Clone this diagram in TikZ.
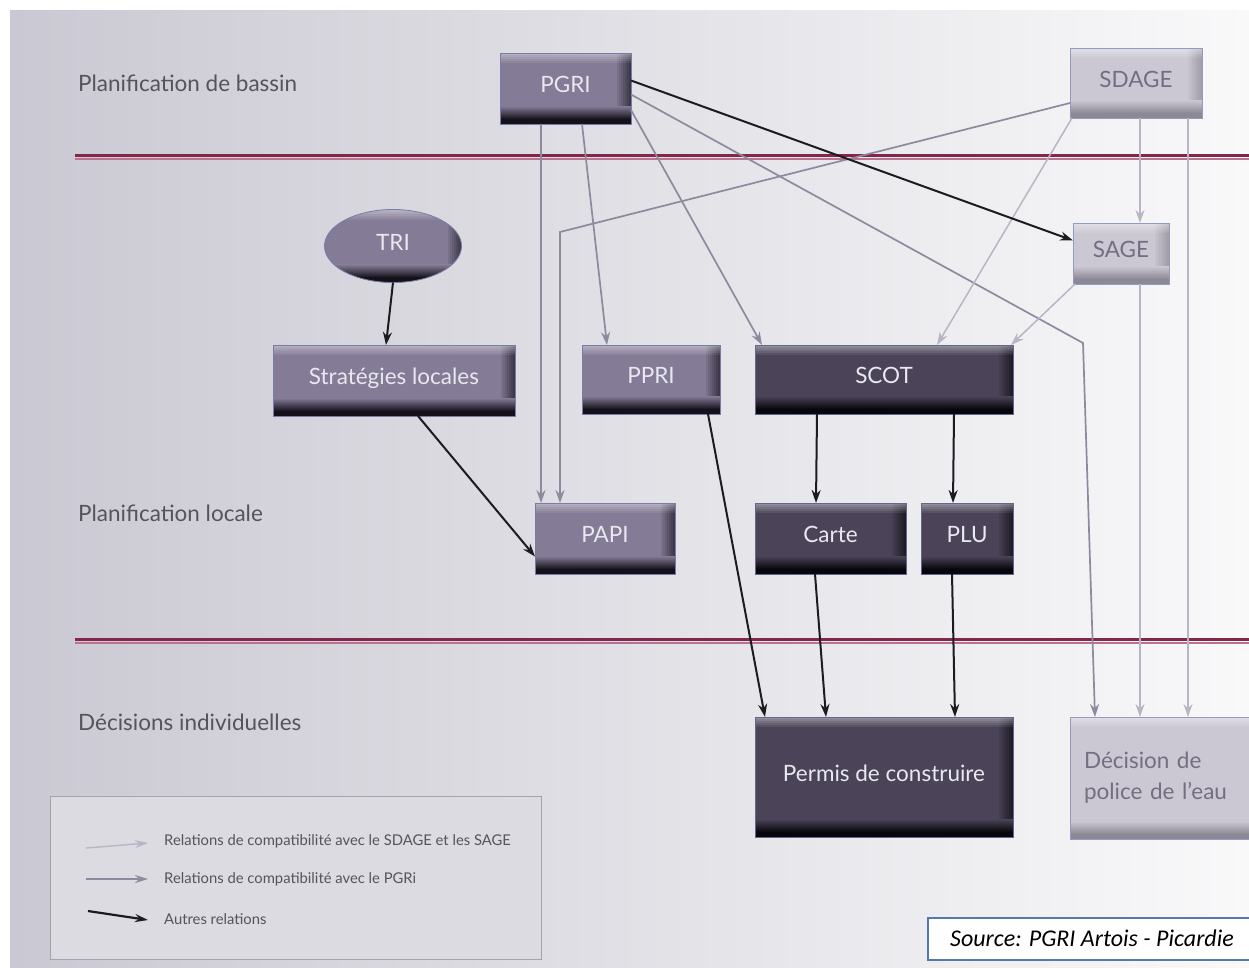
\documentclass[tikz,border=0pt]{standalone}
\usepackage{fontspec}
\setmainfont{Lato}
\newfontfamily\srcfont{Carlito}
\usetikzlibrary{arrows.meta,shapes.geometric,calc}

\definecolor{bgL}{HTML}{CAC8D2}
\definecolor{bgM}{HTML}{DFDEE4}
\definecolor{bgR}{HTML}{F9F9FA}
\definecolor{cM}{HTML}{847B96}
\definecolor{cMb}{HTML}{15111B}
\definecolor{cD}{HTML}{4B4459}
\definecolor{cDb}{HTML}{07060B}
\definecolor{cL}{HTML}{CBC8D3}
\definecolor{cLb}{HTML}{8C8996}
\definecolor{edge}{HTML}{6F7FB0}
\definecolor{txtW}{HTML}{E9E7EF}
\definecolor{txtL}{HTML}{736F82}
\definecolor{lab}{HTML}{55535C}
\definecolor{arM}{HTML}{8E8A9E}
\definecolor{arL}{HTML}{B8B6C5}
\definecolor{arK}{HTML}{1C1B20}
\definecolor{redA}{HTML}{84254A}
\definecolor{redB}{HTML}{B9738E}
\definecolor{legfill}{HTML}{DCDBE2}
\definecolor{legdraw}{HTML}{A3A2AE}
\definecolor{srcblue}{HTML}{5479AC}

\begin{document}
\begin{tikzpicture}[x=1pt,y=-1pt,
  bevel/.style n args={2}{fill=#1, draw=edge!60!#1, line width=0.8pt,
    inner sep=0pt, outer sep=0pt,
    path picture={
      \foreach \i in {1,...,7}{
        \fill[#2, fill opacity=0.09*\i]
          ([xshift={(-16+2*\i)*1pt}]path picture bounding box.south east)
          rectangle ([xshift={(-14+2*\i)*1pt}]path picture bounding box.north east);
      }
      \foreach \i in {1,...,5}{
        \fill[white, fill opacity=0.08*\i]
          ([yshift={(-12+2*\i)*1pt}]path picture bounding box.north west)
          rectangle ([yshift={(-10+2*\i)*1pt}]path picture bounding box.north east);
      }
      \shade[top color=#1, bottom color=#2]
        ([yshift=5pt]path picture bounding box.south west)
        rectangle ([yshift=18pt]path picture bounding box.south east);
      \fill[#2]
        (path picture bounding box.south west)
        rectangle ([yshift=5.2pt]path picture bounding box.south east);
    }},
  boxM/.style={bevel={cM}{cMb}, text=txtW},
  boxD/.style={bevel={cD}{cDb}, text=txtW},
  boxL/.style={bevel={cL}{cLb}, text=txtL},
  boxfont/.style={font=\fontsize{22.5}{31}\selectfont},
  up/.style={text height=16pt, text depth=8pt},
  labfont/.style={font=\fontsize{22.5}{26}\selectfont, text=lab, anchor=west, inner sep=0pt},
  legfont/.style={font=\fontsize{14.8}{17}\selectfont, text=lab, anchor=west, inner sep=0pt},
  arrK/.style={draw=arK, line width=2pt, -{Stealth[length=13pt,width=9pt]}},
  arrM/.style={draw=arM, line width=1.7pt, -{Stealth[length=13pt,width=9pt]}},
  arrL/.style={draw=arL, line width=1.5pt, -{Stealth[length=13pt,width=9pt]}}
]
\useasboundingbox (0,0) rectangle (1249,967);
\fill[white] (0,0) rectangle (1249,967);
\shade[left color=bgL, middle color=bgM, right color=bgR] (10,10) rectangle (1249,967);

% separator lines
\draw[draw=redA, line width=3pt] (75,155.5) -- (1249,155.5);
\draw[draw=redB, line width=2.5pt] (75,158.8) -- (1249,158.8);
\draw[draw=redA, line width=3pt] (75,639.5) -- (1249,639.5);
\draw[draw=redB, line width=2.5pt] (75,642.8) -- (1249,642.8);

% row labels
\node[labfont] (l1) at (78,83) {Planification de bassin};
\node[labfont] (l2) at (78,513) {Planification locale};
\node[labfont] (l3) at (78,722) {Décisions individuelles};

% nodes
\node[boxM, boxfont, up, anchor=north west, minimum width=131pt, minimum height=71pt] (PGRI) at (500,53) {PGRI};
\node[boxL, boxfont, up, anchor=north west, minimum width=132pt, minimum height=70pt] (SDAGE) at (1070,48) {SDAGE};
\node[boxL, boxfont, up, anchor=north west, minimum width=96pt, minimum height=61pt] (SAGE) at (1073,223) {SAGE};
\node[boxM, boxfont, up, ellipse, minimum width=137pt, minimum height=73pt] (TRI) at (393,246) {TRI};
\node[boxM, boxfont, up, anchor=north west, minimum width=242pt, minimum height=71pt] (STRAT) at (273,345) {Stratégies locales};
\node[boxM, boxfont, up, anchor=north west, minimum width=138pt, minimum height=69pt] (PPRI) at (582,345) {PPRI};
\node[boxD, boxfont, up, anchor=north west, minimum width=258pt, minimum height=69pt] (SCOT) at (755,345) {SCOT};
\node[boxM, boxfont, up, anchor=north west, minimum width=140pt, minimum height=71pt] (PAPI) at (535,503) {PAPI};
\node[boxD, boxfont, up, anchor=north west, minimum width=151pt, minimum height=71pt] (CARTE) at (755,503) {Carte};
\node[boxD, boxfont, up, anchor=north west, minimum width=92pt, minimum height=71pt] (PLU) at (921,503) {PLU};
\node[boxD, boxfont, up, anchor=north west, minimum width=258pt, minimum height=120pt] (PERMIS) at (755,717) {Permis de construire};
\node[boxL, boxfont, anchor=north west, minimum width=195pt, minimum height=122pt,
      text width=175pt, align=left, inner xsep=14pt] (DEC) at (1070,717) {Décision de\\police de l’eau};

% PGRi compatibility relations
\draw[arrM] ([xshift=41pt]PGRI.south west) -- ([xshift=6pt]PAPI.north west);
\draw[arrM] ([xshift=82pt]PGRI.south west) -- ([xshift=25pt]PPRI.north west);
\draw[arrM] ([yshift=14pt]PGRI.south east) -- ([xshift=7pt]SCOT.north west);
\coordinate (e1) at (1083,343);
\draw[arrM] ([yshift=-6pt]PGRI.east) -- (e1) -- ([xshift=25pt]DEC.north west);
\coordinate (e2) at (560,232);
\draw[arrM] ([yshift=-20pt]SDAGE.west) -- (e2) -- ([xshift=25pt]PAPI.north west);

% SDAGE / SAGE compatibility relations
\draw[arrL] ([xshift=70pt]SDAGE.south west) -- ([xshift=67pt]SAGE.north west);
\draw[arrL] ([xshift=118pt]SDAGE.south west) -- ([xshift=118pt]DEC.north west);
\draw[arrL] ([xshift=2pt]SDAGE.south west) -- ([xshift=182pt]SCOT.north west);
\draw[arrL] ([xshift=67pt]SAGE.south west) -- ([xshift=70pt]DEC.north west);
\draw[arrL] ([xshift=2pt]SAGE.south west) -- ([xshift=-2pt]SCOT.north east);

% other relations
\draw[arrK] ([yshift=8pt]PGRI.east) -- ([yshift=13pt]SAGE.west);
\draw[arrK] (TRI.south) -- ([xshift=-8pt]STRAT.north);
\draw[arrK] ([xshift=145pt]STRAT.south west) -- ([yshift=-18pt]PAPI.west);
\draw[arrK] ([xshift=62pt]SCOT.south west) -- ([xshift=61pt]CARTE.north west);
\draw[arrK] ([xshift=199pt]SCOT.south west) -- ([xshift=32pt]PLU.north west);
\draw[arrK] ([xshift=126pt]PPRI.south west) -- ([xshift=10pt]PERMIS.north west);
\draw[arrK] ([xshift=60pt]CARTE.south west) -- ([xshift=71pt]PERMIS.north west);
\draw[arrK] ([xshift=31pt]PLU.south west) -- ([xshift=200pt]PERMIS.north west);

% legend
\node[draw=legdraw, fill=legfill, line width=1pt, anchor=north west,
      minimum width=491pt, minimum height=163pt, inner sep=0pt] (legend) at (50,796) {};
\coordinate (la1) at (86,848); \coordinate (la2) at (148,843);
\coordinate (lb1) at (86,879); \coordinate (lb2) at (148,879);
\coordinate (lc1) at (88,911); \coordinate (lc2) at (148,920);
\draw[draw=arL, line width=1.4pt, -{Stealth[length=13pt,width=8pt]}] (la1) -- (la2);
\draw[draw=arM, line width=2pt, -{Stealth[length=13pt,width=8pt]}] (lb1) -- (lb2);
\draw[draw=arK, line width=2.2pt, -{Stealth[length=13pt,width=8pt]}] (lc1) -- (lc2);
\node[legfont] (lt1) at (164,841) {Relations de compatibilité avec le SDAGE et les SAGE};
\node[legfont] (lt2) at (164,879) {Relations de compatibilité avec le PGRi};
\node[legfont] (lt3) at (164,919) {Autres relations};

% source
\node[draw=srcblue, fill=white, line width=1.5pt, anchor=north west,
      minimum width=330pt, minimum height=42pt, inner sep=0pt] (src) at (927,917) {};
\node[font=\srcfont\itshape\fontsize{24}{28}\selectfont, anchor=west, inner sep=0pt, text=black] (srct) at (950,938) {Source: PGRI Artois - Picardie};
\end{tikzpicture}
\end{document}
